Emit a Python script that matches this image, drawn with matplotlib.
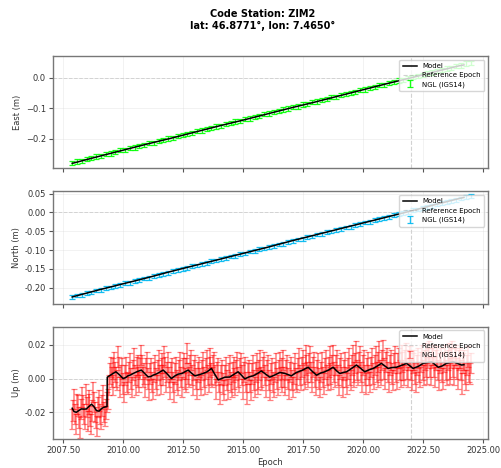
import numpy as np
import matplotlib
matplotlib.use("Agg")
import matplotlib.pyplot as plt
from matplotlib.ticker import MultipleLocator, FormatStrFormatter

# ---------------- data ----------------
station = "ZIM2"
lat, lon = 46.8771, 7.4650
ref_epoch = 2022.0

# East / North observations (sampled every 0.2 yr)
en_start, en_step = 2007.88, 0.2
east_obs = [-0.279, -0.273, -0.271, -0.265, -0.263, -0.257, -0.255, -0.249, -0.247, -0.243,
            -0.237, -0.236, -0.230, -0.228, -0.222, -0.220, -0.214, -0.212, -0.206, -0.204,
            -0.198, -0.196, -0.190, -0.188, -0.183, -0.180, -0.175, -0.172, -0.167, -0.165,
            -0.159, -0.157, -0.151, -0.149, -0.143, -0.141, -0.135, -0.133, -0.128, -0.125,
            -0.119, -0.117, -0.112, -0.109, -0.104, -0.101, -0.096, -0.094, -0.088, -0.086,
            -0.080, -0.078, -0.072, -0.070, -0.064, -0.062, -0.057, -0.054, -0.049, -0.046,
            -0.041, -0.039, -0.033, -0.031, -0.025, -0.023, -0.017, -0.015, -0.009, -0.007,
            -0.001, 0.001, 0.006, 0.009, 0.014, 0.017, 0.022, 0.025, 0.030, 0.032,
            0.038, 0.040, 0.046, 0.048]
north_obs = [-0.226, -0.221, -0.219, -0.214, -0.213, -0.208, -0.206, -0.201, -0.200, -0.195,
             -0.193, -0.188, -0.187, -0.182, -0.180, -0.176, -0.174, -0.169, -0.167, -0.163,
             -0.161, -0.156, -0.154, -0.150, -0.148, -0.143, -0.141, -0.137, -0.135, -0.130,
             -0.128, -0.124, -0.122, -0.117, -0.115, -0.111, -0.109, -0.104, -0.102, -0.098,
             -0.096, -0.091, -0.089, -0.085, -0.083, -0.079, -0.077, -0.072, -0.070, -0.066,
             -0.064, -0.059, -0.057, -0.053, -0.051, -0.046, -0.044, -0.040, -0.038, -0.033,
             -0.031, -0.027, -0.025, -0.020, -0.018, -0.014, -0.012, -0.007, -0.005, -0.001,
             0.001, 0.006, 0.008, 0.012, 0.014, 0.018, 0.021, 0.025, 0.027, 0.031,
             0.034, 0.037, 0.041, 0.044]
east_sigma = 0.007
north_sigma = 0.005

# Up observations: two interleaved sets, each sampled every 0.08 yr
up_start_a, up_start_b, up_step = 2007.88, 2007.92, 0.08
up_obs_a = [-0.024, -0.012, -0.027, -0.016, -0.029, -0.011, -0.021, -0.009, -0.025, -0.015,
            -0.027, -0.008, -0.020, -0.028, -0.013, -0.024, -0.010, -0.022, -0.014, -0.004,
            0.007, -0.004, 0.010, 0.001, 0.013, -0.005, 0.006, -0.008, 0.007, -0.003,
            0.009, -0.005, 0.012, -0.004, 0.008, -0.002, 0.014, 0.001, -0.005, 0.010,
            -0.007, 0.006, -0.006, 0.008, -0.004, 0.011, -0.003, 0.009, 0.013, -0.002,
            0.010, -0.006, 0.006, -0.008, 0.007, -0.004, 0.010, -0.005, 0.009, -0.002,
            0.015, 0.001, 0.011, -0.004, 0.008, -0.006, 0.007, -0.004, 0.010, -0.003,
            0.011, -0.002, 0.012, 0.001, 0.010, -0.006, 0.006, -0.009, 0.005, -0.007,
            0.007, -0.006, 0.008, -0.005, 0.007, -0.004, 0.010, -0.002, 0.009, -0.006,
            0.007, -0.009, 0.005, -0.007, 0.008, -0.005, 0.009, -0.003, 0.011, -0.001,
            0.010, -0.005, 0.008, -0.007, 0.006, -0.005, 0.009, -0.004, 0.010, -0.002,
            0.011, -0.004, 0.008, -0.006, 0.007, -0.005, 0.009, -0.002, 0.012, -0.001,
            0.011, 0.000, 0.014, 0.001, 0.013, -0.002, 0.010, -0.004, 0.009, -0.005,
            0.010, -0.003, 0.011, -0.001, 0.013, 0.000, 0.014, 0.001, 0.011, -0.004,
            0.009, -0.005, 0.010, -0.003, 0.012, -0.001, 0.014, 0.001, 0.016, 0.002,
            0.013, -0.002, 0.011, -0.003, 0.010, -0.002, 0.012, 0.000, 0.013, 0.001,
            0.016, 0.002, 0.017, 0.000, 0.012, -0.002, 0.011, -0.001, 0.013, 0.000,
            0.012, 0.001, 0.014, 0.002, 0.015, 0.001, 0.013, -0.001, 0.011, -0.002,
            0.012, 0.001, 0.014, 0.002, 0.015, 0.003, 0.016, 0.002, 0.014, 0.001,
            0.013, -0.001, 0.012, 0.000, 0.014, 0.002, 0.015, 0.003, 0.016, 0.002,
            0.014, 0.000, 0.012, -0.003, 0.011, -0.001, 0.013, 0.003]
up_obs_b = [-0.019, -0.021, -0.015, -0.023, -0.018, -0.016, -0.024, -0.017, -0.013, -0.022,
            -0.019, -0.014, -0.023, -0.017, -0.021, -0.016, -0.020, -0.018, -0.012, 0.003,
            0.001, 0.006, 0.004, -0.001, 0.007, 0.002, -0.003, 0.002, -0.002, 0.004,
            0.000, 0.005, 0.002, 0.007, 0.001, 0.006, 0.008, 0.003, 0.006, 0.000,
            0.003, -0.002, 0.004, 0.000, 0.005, 0.002, 0.006, 0.002, 0.007, 0.004,
            0.001, 0.004, -0.002, 0.003, -0.001, 0.005, 0.001, 0.006, 0.000, 0.006,
            0.003, 0.008, 0.002, 0.005, 0.000, 0.004, 0.000, 0.005, 0.001, 0.006,
            0.002, 0.007, 0.003, 0.008, 0.002, 0.004, -0.002, 0.002, -0.003, 0.002,
            -0.001, 0.003, -0.002, 0.004, 0.000, 0.005, 0.001, 0.006, 0.002, 0.004,
            -0.002, 0.003, -0.002, 0.003, -0.001, 0.004, 0.000, 0.005, 0.001, 0.007,
            0.002, 0.005, -0.001, 0.003, -0.002, 0.004, 0.000, 0.005, 0.001, 0.006,
            0.001, 0.005, 0.000, 0.004, -0.001, 0.003, 0.000, 0.006, 0.002, 0.007,
            0.003, 0.008, 0.004, 0.009, 0.004, 0.007, 0.001, 0.005, 0.000, 0.004,
            0.001, 0.006, 0.002, 0.007, 0.003, 0.008, 0.004, 0.008, 0.002, 0.006,
            0.001, 0.005, 0.001, 0.006, 0.002, 0.008, 0.004, 0.009, 0.005, 0.010,
            0.004, 0.008, 0.002, 0.006, 0.002, 0.007, 0.003, 0.008, 0.004, 0.010,
            0.005, 0.011, 0.006, 0.010, 0.004, 0.008, 0.003, 0.009, 0.004, 0.009,
            0.005, 0.010, 0.005, 0.011, 0.006, 0.011, 0.005, 0.009, 0.003, 0.008,
            0.004, 0.010, 0.005, 0.011, 0.007, 0.012, 0.007, 0.012, 0.007, 0.011,
            0.005, 0.009, 0.004, 0.010, 0.005, 0.011, 0.006, 0.012, 0.007, 0.012,
            0.006, 0.011, 0.005, 0.009, 0.003, 0.008, 0.004, 0.009]
up_sigma = 0.006

# Models
model_en_t = [2007.88, 2009.0, 2010.0, 2011.0, 2012.0, 2013.0, 2014.0, 2015.0, 2016.0,
              2017.0, 2018.0, 2019.0, 2020.0, 2021.0, 2022.0, 2023.0, 2024.0, 2024.2]
east_model = [-0.2795, -0.2565, -0.2365, -0.2165, -0.1975, -0.1775, -0.1575, -0.1385, -0.1185,
              -0.0985, -0.0795, -0.0595, -0.0395, -0.0195, -0.0005, 0.0195, 0.0385, 0.0415]
north_model = [-0.225, -0.206, -0.190, -0.174, -0.157, -0.141, -0.125, -0.109, -0.093,
               -0.076, -0.060, -0.044, -0.028, -0.012, 0.004, 0.021, 0.037, 0.040]

up_model_t = [2007.88, 2007.95, 2008.05, 2008.15, 2008.26, 2008.37, 2008.47, 2008.58, 2008.68,
              2008.78, 2008.89, 2009.00, 2009.10, 2009.20, 2009.33, 2009.34, 2009.45, 2009.58,
              2009.70, 2009.85, 2010.00, 2010.10, 2010.20, 2010.32, 2010.42, 2010.60, 2010.76,
              2010.90, 2011.04, 2011.15, 2011.25, 2011.40, 2011.55, 2011.67, 2011.82, 2012.01,
              2012.15, 2012.29, 2012.45, 2012.60, 2012.71, 2012.85, 2012.99, 2013.15, 2013.33,
              2013.50, 2013.68, 2013.80, 2013.96, 2014.10, 2014.24, 2014.44, 2014.62, 2014.79,
              2014.93, 2015.07, 2015.25, 2015.42, 2015.60, 2015.76, 2015.95, 2016.11, 2016.30,
              2016.53, 2016.75, 2017.01, 2017.22, 2017.45, 2017.71, 2017.90, 2018.06, 2018.22,
              2018.40, 2018.58, 2018.75, 2018.90, 2019.03, 2019.17, 2019.31, 2019.50, 2019.72,
              2019.90, 2020.07, 2020.25, 2020.42, 2020.60, 2020.76, 2020.90, 2021.04, 2021.20,
              2021.39, 2021.60, 2021.81, 2021.95, 2022.08, 2022.30, 2022.50, 2022.68, 2022.85,
              2023.00, 2023.13, 2023.30, 2023.47, 2023.62, 2023.75, 2023.92, 2024.10, 2024.20]
up_model = [-0.0176, -0.0195, -0.0200, -0.0190, -0.0180, -0.0181, -0.0180, -0.0165, -0.0152,
            -0.0165, -0.0190, -0.0193, -0.0178, -0.0170, -0.0166, 0.0008, 0.0018, 0.0030,
            0.0040, 0.0022, 0.0000, 0.0005, 0.0016, 0.0022, 0.0030, 0.0042, 0.0050,
            0.0030, 0.0010, 0.0012, 0.0020, 0.0028, 0.0040, 0.0050, 0.0030, 0.0000,
            0.0015, 0.0026, 0.0030, 0.0042, 0.0050, 0.0032, 0.0016, 0.0022, 0.0030,
            0.0040, 0.0060, 0.0030, -0.0008, 0.0000, 0.0008, 0.0009, 0.0025, 0.0040,
            0.0020, -0.0002, 0.0010, 0.0016, 0.0030, 0.0045, 0.0025, 0.0008, 0.0020,
            0.0036, 0.0030, 0.0016, 0.0036, 0.0048, 0.0067, 0.0040, 0.0020, 0.0032,
            0.0040, 0.0052, 0.0067, 0.0045, 0.0030, 0.0036, 0.0040, 0.0058, 0.0080,
            0.0060, 0.0040, 0.0052, 0.0060, 0.0075, 0.0090, 0.0075, 0.0060, 0.0065,
            0.0067, 0.0078, 0.0090, 0.0075, 0.0060, 0.0072, 0.0090, 0.0095, 0.0100,
            0.0082, 0.0067, 0.0075, 0.0090, 0.0095, 0.0100, 0.0090, 0.0080, 0.0082]

x_ticks = [2007.5, 2010.0, 2012.5, 2015.0, 2017.5, 2020.0, 2022.5, 2025.0]

# ---------------- plot ----------------
en_t = en_start + en_step * np.arange(len(east_obs))
up_t = np.concatenate([up_start_a + up_step * np.arange(len(up_obs_a)),
                       up_start_b + up_step * np.arange(len(up_obs_b))])
up_obs = np.concatenate([up_obs_a, up_obs_b])
order = np.argsort(up_t)
up_t, up_obs = up_t[order], up_obs[order]

fig, axes = plt.subplots(3, 1, figsize=(5.02, 4.68), dpi=100, sharex=True)
fig.subplots_adjust(left=0.1056, right=0.972, top=0.880, bottom=0.062, hspace=0.205)
fig.suptitle(f"Code Station: {station}\nlat: {lat:.4f}°, lon: {lon:.4f}°",
             fontsize=7, fontweight="bold", x=0.524, y=0.98, linespacing=1.25)

panels = [
    (axes[0], en_t, east_obs, east_sigma, model_en_t, east_model, "lime", 0.9, 1.0, "East (m)",
     (-0.296, 0.070)),
    (axes[1], en_t, north_obs, north_sigma, model_en_t, north_model, "#00b8f0", 0.9, 1.0,
     "North (m)", (-0.243, 0.056)),
    (axes[2], up_t, up_obs, up_sigma, up_model_t, up_model, "red", 0.5, 1.1, "Up (m)",
     (-0.0358, 0.0307)),
]

for ax, t, obs, sig, mt, mv, col, alp, elw, lab, yl in panels:
    ax.errorbar(t, obs, yerr=sig, fmt="none", ecolor=col, elinewidth=elw,
                capsize=2.2, capthick=0.9, alpha=alp, label="NGL (IGS14)", zorder=2)
    ax.plot(mt, mv, color="black", lw=1.1, label="Model", zorder=3)
    ax.axvline(ref_epoch, color="gray", ls="--", lw=0.8, alpha=0.35,
               label="Reference Epoch", zorder=1)
    ax.axhline(0, color="lightgray", ls="--", lw=0.7, zorder=1)
    ax.grid(True, color="lightgray", alpha=0.4, lw=0.5)
    ax.set_ylim(*yl)
    ax.set_ylabel(lab, fontsize=6, color="#333333", labelpad=3)
    ax.tick_params(labelsize=6, colors="#555555", labelcolor="#333333", width=0.8,
                   length=3, pad=2)
    for s in ax.spines.values():
        s.set_color("#777777")
        s.set_linewidth(1.0)
    ax.legend(loc="upper right", fontsize=5, framealpha=0.8, borderpad=0.5,
              handlelength=2.0, labelspacing=0.45)

axes[2].set_xlim(2007.08, 2025.2)
axes[2].set_xticks(x_ticks)
axes[2].xaxis.set_major_formatter(FormatStrFormatter("%.2f"))
axes[2].set_xlabel("Epoch", fontsize=6, color="#333333", labelpad=2)
axes[1].yaxis.set_major_locator(MultipleLocator(0.05))
axes[1].yaxis.set_major_formatter(FormatStrFormatter("%.2f"))
axes[2].yaxis.set_major_locator(MultipleLocator(0.02))
axes[2].yaxis.set_major_formatter(FormatStrFormatter("%.2f"))

fig.savefig("out.png", dpi=100)
